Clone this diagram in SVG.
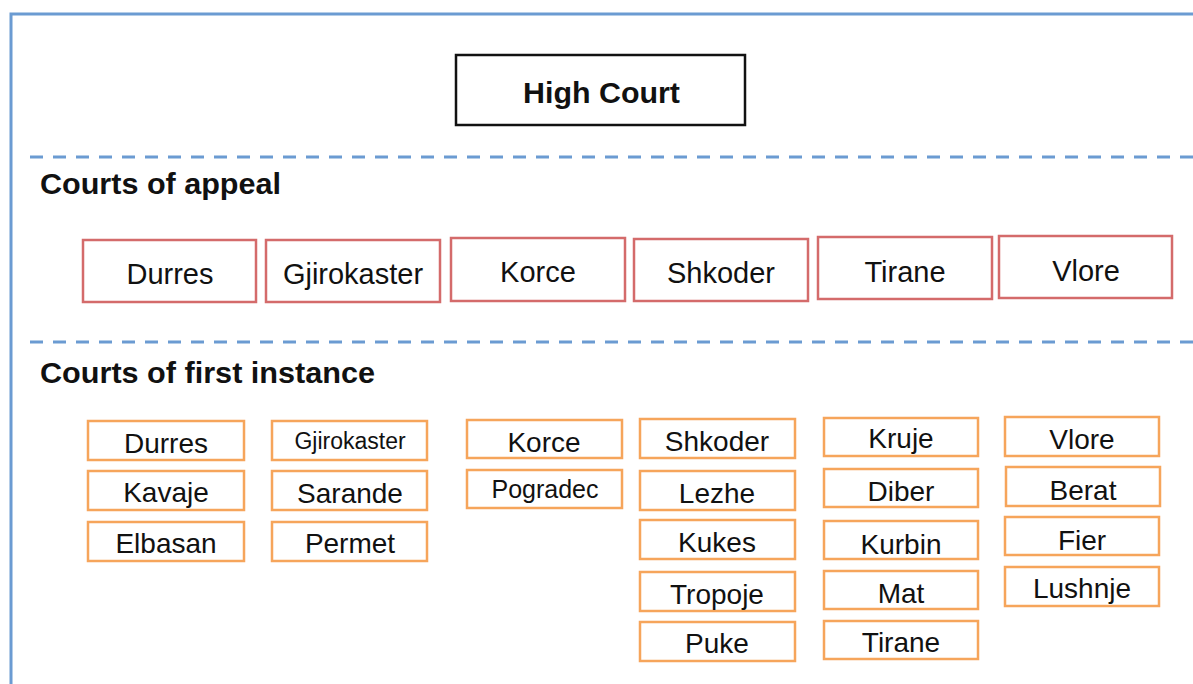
<svg xmlns="http://www.w3.org/2000/svg" width="1193" height="684" viewBox="0 0 1193 684">
<style>
.t{font-family:"Liberation Sans",Arial,sans-serif;fill:#111;text-anchor:middle}
.h{font-family:"Liberation Sans",Arial,sans-serif;fill:#111;font-weight:bold}
.ap{fill:#fff;stroke:#d46b6b;stroke-width:2.5}
.fi{fill:#fff;stroke:#f6a55b;stroke-width:2.5}
.r{font-size:29px}
.dash{stroke:#6b9bd2;stroke-width:3;stroke-dasharray:13 10;fill:none}
</style>
<rect width="1193" height="684" fill="#fff"/>
<path d="M11,684 V14 H1193" fill="none" stroke="#6b9bd2" stroke-width="3"/>
<g id="separators">
<line class="dash" x1="30" y1="157" x2="1193" y2="157"/>
<line class="dash" x1="30" y1="342" x2="1193" y2="342"/>
</g>
<g id="high-court">
<rect x="456" y="55" width="289" height="70" fill="#fff" stroke="#111" stroke-width="2.5"/>
<text class="h" x="523" y="103" font-size="29" textLength="157" lengthAdjust="spacingAndGlyphs">High Court</text>
</g>
<text class="h" x="40" y="194" font-size="29" textLength="241" lengthAdjust="spacingAndGlyphs">Courts of appeal</text>
<text class="h" x="40" y="383" font-size="29" textLength="335" lengthAdjust="spacingAndGlyphs">Courts of first instance</text>
<g id="appeal-durres"><rect class="ap" x="83" y="240" width="173" height="62"/><text class="t r" x="170" y="284">Durres</text></g>
<g id="appeal-gjirokaster"><rect class="ap" x="266" y="240" width="174" height="62"/><text class="t r" x="353" y="284">Gjirokaster</text></g>
<g id="appeal-korce"><rect class="ap" x="451" y="238" width="174" height="63"/><text class="t r" x="538" y="282">Korce</text></g>
<g id="appeal-shkoder"><rect class="ap" x="634" y="239" width="174" height="62"/><text class="t r" x="721" y="283">Shkoder</text></g>
<g id="appeal-tirane"><rect class="ap" x="818" y="237" width="174" height="62"/><text class="t r" x="905" y="282">Tirane</text></g>
<g id="appeal-vlore"><rect class="ap" x="999" y="236" width="173" height="62"/><text class="t r" x="1086" y="281">Vlore</text></g>
<g id="fi-durres"><rect class="fi" x="88" y="421" width="156" height="39"/><text class="t" font-size="28" x="166" y="453">Durres</text></g>
<g id="fi-kavaje"><rect class="fi" x="88" y="471" width="156" height="39"/><text class="t" font-size="28" x="166" y="502">Kavaje</text></g>
<g id="fi-elbasan"><rect class="fi" x="88" y="522" width="156" height="39"/><text class="t" font-size="28" x="166" y="553">Elbasan</text></g>
<g id="fi-gjirokaster"><rect class="fi" x="272" y="421" width="155" height="39"/><text class="t" font-size="23" x="350" y="449">Gjirokaster</text></g>
<g id="fi-sarande"><rect class="fi" x="272" y="471" width="155" height="39"/><text class="t" font-size="28" x="350" y="503">Sarande</text></g>
<g id="fi-permet"><rect class="fi" x="272" y="522" width="155" height="39"/><text class="t" font-size="28" x="350" y="553">Permet</text></g>
<g id="fi-korce"><rect class="fi" x="467" y="420" width="155" height="38"/><text class="t" font-size="28" x="544" y="452">Korce</text></g>
<g id="fi-pogradec"><rect class="fi" x="467" y="470" width="155" height="38"/><text class="t" font-size="25" x="545" y="498">Pogradec</text></g>
<g id="fi-shkoder"><rect class="fi" x="640" y="419" width="155" height="39"/><text class="t" font-size="28" x="717" y="451">Shkoder</text></g>
<g id="fi-lezhe"><rect class="fi" x="640" y="471" width="155" height="39"/><text class="t" font-size="28" x="717" y="503">Lezhe</text></g>
<g id="fi-kukes"><rect class="fi" x="640" y="520" width="155" height="39"/><text class="t" font-size="28" x="717" y="552">Kukes</text></g>
<g id="fi-tropoje"><rect class="fi" x="640" y="572" width="155" height="39"/><text class="t" font-size="28" x="717" y="604">Tropoje</text></g>
<g id="fi-puke"><rect class="fi" x="640" y="622" width="155" height="39"/><text class="t" font-size="28" x="717" y="653">Puke</text></g>
<g id="fi-kruje"><rect class="fi" x="824" y="418" width="154" height="38"/><text class="t" font-size="28" x="901" y="448">Kruje</text></g>
<g id="fi-diber"><rect class="fi" x="824" y="469" width="154" height="38"/><text class="t" font-size="28" x="901" y="501">Diber</text></g>
<g id="fi-kurbin"><rect class="fi" x="824" y="521" width="154" height="38"/><text class="t" font-size="28" x="901" y="554">Kurbin</text></g>
<g id="fi-mat"><rect class="fi" x="824" y="571" width="154" height="38"/><text class="t" font-size="28" x="901" y="603">Mat</text></g>
<g id="fi-tirane"><rect class="fi" x="824" y="621" width="154" height="38"/><text class="t" font-size="28" x="901" y="652">Tirane</text></g>
<g id="fi-vlore"><rect class="fi" x="1005" y="417" width="154" height="39"/><text class="t" font-size="28" x="1082" y="449">Vlore</text></g>
<g id="fi-berat"><rect class="fi" x="1006" y="467" width="154" height="39"/><text class="t" font-size="28" x="1083" y="500">Berat</text></g>
<g id="fi-fier"><rect class="fi" x="1005" y="517" width="154" height="38"/><text class="t" font-size="28" x="1082" y="550">Fier</text></g>
<g id="fi-lushnje"><rect class="fi" x="1005" y="567" width="154" height="39"/><text class="t" font-size="28" x="1082" y="598">Lushnje</text></g>
</svg>
